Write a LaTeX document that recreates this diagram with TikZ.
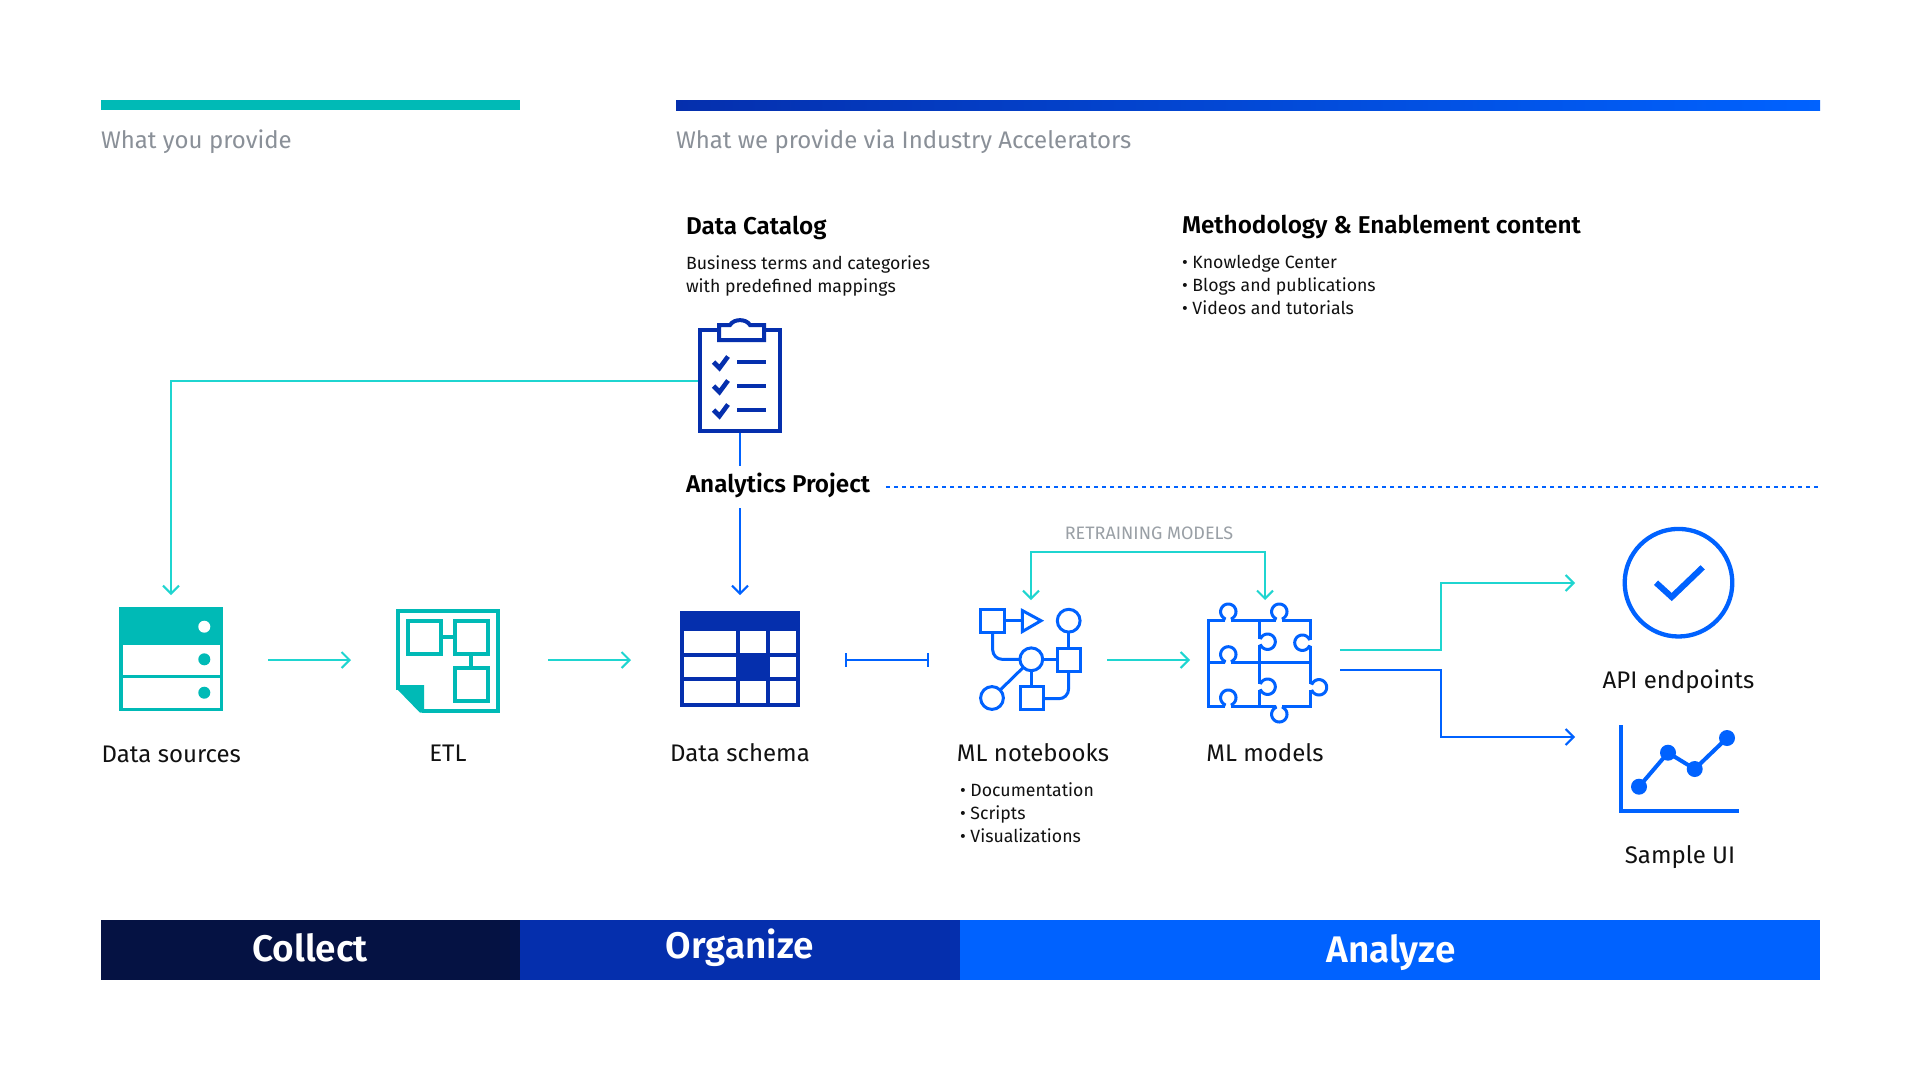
\documentclass[tikz,border=0pt]{standalone}
\usepackage{fontspec}
\setmainfont{Fira Sans}[BoldFont={Fira Sans SemiBold}]
\usetikzlibrary{arrows.meta,positioning}
\definecolor{tealI}{HTML}{00BAB6}
\definecolor{tealL}{HTML}{1FD5D0}
\definecolor{navy}{HTML}{051243}
\definecolor{cobalt}{HTML}{052FAD}
\definecolor{blueA}{HTML}{0062FF}
\definecolor{inkT}{HTML}{111111}
\definecolor{greyT}{HTML}{8A9098}
\definecolor{greyR}{HTML}{9AA0A6}
\tikzset{
  x=1pt,y=-1pt,
  every node/.style={inner sep=0pt,outer sep=0pt},
  iconbox/.style={minimum width=#1,minimum height=#1},
  conT/.style={draw=tealL,line width=2pt},
  conB/.style={draw=blueA,line width=2pt},
  head/.style={-{Straight Barb[length=8pt,width=16pt,line width=2pt]}},
  lbl/.style={text=inkT,font=\fontsize{24}{28}\selectfont,anchor=base},
  lst/.style={text=inkT,font=\fontsize{17.7}{23}\selectfont,anchor=base west},
  ttl/.style={text=black,font=\fontsize{24.3}{28}\selectfont\bfseries,anchor=base west},
  phase/.style={text=white,font=\fontsize{37}{42}\selectfont\bfseries,anchor=base},
  grey/.style={text=greyT,font=\fontsize{24}{28}\selectfont,anchor=base west},
  ico/.style={draw=blueA,line width=3pt,fill=white},
  puz/.style={draw=blueA,line width=3pt},
}
\newcommand{\knobV}[3]{\draw[puz] (#1+4.5,#2) -- plot[domain=30:330,samples=31,smooth] ({#1+7.7*sin(\x)},{#2+(#3)*(8.3-7.7*cos(\x))}) -- (#1-4.5,#2);}
\newcommand{\knobH}[3]{\draw[puz] (#1,#2+4.5) -- plot[domain=30:330,samples=31,smooth] ({#1+(#3)*(8.3-7.7*cos(\x))},{#2+7.7*sin(\x)}) -- (#1,#2-4.5);}
\begin{document}
\begin{tikzpicture}
\useasboundingbox (0,0) rectangle (1920,1080);
\fill[white] (0,0) rectangle (1920,1080);
% top bars
\fill[tealI] (101,100) rectangle (520,110);
\shade[left color=cobalt,right color=blueA] (676,100) rectangle (1820,110);
\node[grey] (tl) at (101,148) {What you provide};
\node[grey] (tr) at (676,148) {What we provide via Industry Accelerators};
% titles
\node[ttl] (tcat) at (686,234) {Data Catalog};
\node[lst] (c1) at (686,269) {Business terms and categories};
\node[lst] (c2) at (686,292) {with predefined mappings};
\node[ttl] (tmeth) at (1182,233) {Methodology \& Enablement content};
\node[lst] (m1) at (1182,268) {• Knowledge Center};
\node[lst] (m2) at (1182,291) {• Blogs and publications};
\node[lst] (m3) at (1182,314) {• Videos and tutorials};
% clipboard
\node[iconbox=84,minimum height=105] (cat) at (740,380.5) {};
\draw[draw=cobalt,line width=4pt] (700.3,330) rectangle (779.7,431);
\draw[draw=cobalt,line width=4pt,fill=white] (719,340) -- (719,325) -- (730,325) .. controls (734,318.5) and (746,318.5) .. (750,325) -- (764,325) -- (764,340) -- cycle;
\foreach \yy in {362,386,410}{
  \draw[cobalt,line width=4.6pt] (713.5,\yy) -- (719.5,\yy+6) -- (728,\yy-5.5);
  \draw[cobalt,line width=4pt] (737,\yy) -- (766,\yy);
}
% analytics project
\node[ttl,anchor=base west] (ap) at (686,492) {Analytics Project};
\coordinate (dotA) at (886,486.7); \coordinate (dotB) at (1820,486.7);
\draw[blueA,line width=2pt,dash pattern=on 3.5pt off 4.5pt] (dotA) -- (dotB);
% connectors top
\coordinate (dsTop) at (171,595);
\draw[conT,head] (cat.west) -| (dsTop);
\coordinate (apTop) at (740,466);
\draw[conB] (cat.south) -- (apTop);
\coordinate (apBot) at (740,508); \coordinate (schTop) at (740,595);
\draw[conB,head] (apBot) -- (schTop);
% data sources
\node[iconbox=104] (ds) at (171.3,659) {};
\fill[tealI] (119.3,607) rectangle (223.3,711);
\fill[white] (123,645) rectangle (219.7,674.5);
\fill[white] (123,678) rectangle (219.7,707.5);
\fill[white] (204.3,626.7) circle[radius=6];
\fill[tealI] (204.3,659.3) circle[radius=6];
\fill[tealI] (204.3,692.7) circle[radius=6];
\node[lbl] (lds) at (171.3,762) {Data sources};
% ETL
\node[iconbox=104] (etl) at (448,661) {};
\draw[tealI,line width=4pt] (398,690) -- (398,611) -- (498,611) -- (498,710.7) -- (422,710.7);
\fill[tealI] (396,685) -- (424,685) -- (424,712.7) -- (420,712.7) -- (396,688) -- cycle;
\draw[tealI,line width=4pt] (408,621) rectangle (441.3,654);
\draw[tealI,line width=4pt] (454.7,621) rectangle (488,654);
\draw[tealI,line width=4pt] (454.7,668) rectangle (488,700.7);
\draw[tealI,line width=4pt] (441.3,637.3) -- (454.7,637.3);
\draw[tealI,line width=4pt] (471.3,654) -- (471.3,668);
\node[lbl] (letl) at (448,761) {ETL};
% schema
\node[iconbox=100] (sch) at (740,659) {};
\fill[cobalt] (680,611) rectangle (800,707);
\foreach \xa/\xb in {684/736,740/766,770/796}{
  \foreach \ya/\yb in {631/653,657/677,681/703}{
    \fill[white] (\xa,\ya) rectangle (\xb,\yb);
  }
}
\fill[cobalt] (740,657) rectangle (766,677);
\node[lbl] (lsch) at (740,761) {Data schema};
% flow arrows
\coordinate (a1s) at (268,660); \coordinate (a1e) at (351,660);
\draw[conT,head] (a1s) -- (a1e);
\coordinate (a2s) at (548,660); \coordinate (a2e) at (631,660);
\draw[conT,head] (a2s) -- (a2e);
% I bar
\coordinate (ibA) at (846,660); \coordinate (ibB) at (927.5,660);
\draw[conB] (ibA) -- (ibB);
\draw[conB] (846,653) -- (846,667);
\draw[conB] (927.5,653) -- (927.5,667);
% notebooks
\node[iconbox=104] (nb) at (1031,660) {};
\draw[ico,fill=none] (992.7,634) -- (992.7,650) .. controls (992.7,655) and (997,659.3) .. (1002,659.3) -- (1019.3,659.3);
\draw[ico,fill=none] (1005.3,620.7) -- (1021.3,620.7);
\draw[ico,fill=none] (1043,659.3) -- (1056,659.3);
\draw[ico,fill=none] (1068.7,633) -- (1068.7,646.7);
\draw[ico,fill=none] (1031.7,671) -- (1031.7,685);
\draw[ico,fill=none] (1000.7,689.5) -- (1022.7,668);
\draw[ico,fill=none] (1068.7,672.3) -- (1068.7,688) .. controls (1068.7,695) and (1064,698.7) .. (1058.7,698.7) -- (1044.7,698.7);
\draw[ico] (980.7,609.4) rectangle (1004,632.6);
\draw[ico,line join=miter] (1022.4,610.6) -- (1041,620.7) -- (1022.4,631.5) -- cycle;
\draw[ico] (1068.7,620.7) circle[radius=11.4];
\draw[ico] (1057.4,648) rectangle (1080.6,671);
\draw[ico] (1031.3,659.3) circle[radius=11.4];
\draw[ico] (1020,686.4) rectangle (1043.3,709.4);
\draw[ico] (992,698) circle[radius=11.4];
\node[lbl] (lnb) at (1033,761) {ML notebooks};
\node[lst] (n1) at (960,796) {• Documentation};
\node[lst] (n2) at (960,819) {• Scripts};
\node[lst] (n3) at (960,842) {• Visualizations};
% retraining
\node[text=greyR,font=\fontsize{18}{20}\selectfont,anchor=base] (rt) at (1149,539) {RETRAINING MODELS};
\coordinate (rA) at (1031,600); \coordinate (rB) at (1265,600); \coordinate (rC) at (1149,552);
\draw[conT,head] (rC) -| (rA);
\draw[conT,head] (rC) -| (rB);
\coordinate (a3s) at (1107,660); \coordinate (a3e) at (1190,660);
\draw[conT,head] (a3s) -- (a3e);
% puzzle
\node[iconbox=110] (ml) at (1265,663) {};
\foreach \ya/\xl/\xr in {620/1208.3/1223.8,620/1232.8/1274.8,620/1283.8/1310.7,662.7/1208.3/1223.8,662.7/1232.8/1310.7,706/1208.3/1223.8,706/1232.8/1274.8,706/1283.8/1310.7}{
  \draw[puz,line cap=rect] (\xl,\ya) -- (\xr,\ya);
}
\foreach \xa/\ya/\yb in {1208.3/620/706,1259.3/620/637.2,1259.3/646.2/682.2,1259.3/691.2/706,1310.7/620/638.2,1310.7/647.2/682.8,1310.7/691.8/706}{
  \draw[puz,line cap=rect] (\xa,\ya) -- (\xa,\yb);
}
\knobV{1228.3}{620}{-1}\knobV{1279.3}{620}{-1}\knobV{1228.3}{662.7}{-1}
\knobV{1228.3}{706}{-1}\knobV{1279.3}{706}{1}
\knobH{1259.3}{641.7}{1}\knobH{1259.3}{686.7}{1}
\knobH{1310.7}{642.7}{-1}\knobH{1310.7}{687.3}{1}
\node[lbl] (lml) at (1265,761) {ML models};
% outputs
\node[iconbox=112] (api) at (1678.5,582.7) {};
\draw[blueA,line width=4.3pt] (api.center) circle[radius=53.8];
\draw[blueA,line width=6pt] (1656,582.7) -- (1671.7,597) -- (1702.7,567.3);
\node[lbl] (lapi) at (1678.5,688) {API endpoints};
\node[iconbox=112] (ui) at (1680,768) {};
\draw[blueA,line width=4pt] (1621,725) -- (1621,811) -- (1739,811);
\draw[blueA,line width=4pt] (1639,786.7) -- (1668,752.7) -- (1694.7,769) -- (1727,738);
\foreach \px/\py in {1639/786.7,1668/752.7,1694.7/769,1727/738}{\fill[blueA] (\px,\py) circle[radius=8];}
\node[lbl] (lui) at (1680,863) {Sample UI};
\coordinate (mT) at (1340,649.6); \coordinate (mB) at (1340,670);
\coordinate (apiIn) at (1575,583); \coordinate (uiIn) at (1575,737);
\draw[conT,head] (mT) -- (1441,649.6) -- (1441,583) -- (apiIn);
\draw[conB,head] (mB) -- (1441,670) -- (1441,737) -- (uiIn);
% phases
\fill[navy] (101,920) rectangle (520,980);
\fill[cobalt] (520,920) rectangle (960,980);
\fill[blueA] (960,920) rectangle (1820,980);
\node[phase] (pc) at (310,961.7) {Collect};
\node[phase] (po) at (740,958.7) {Organize};
\node[phase] (pa) at (1391,962.7) {Analyze};
\end{tikzpicture}
\end{document}
